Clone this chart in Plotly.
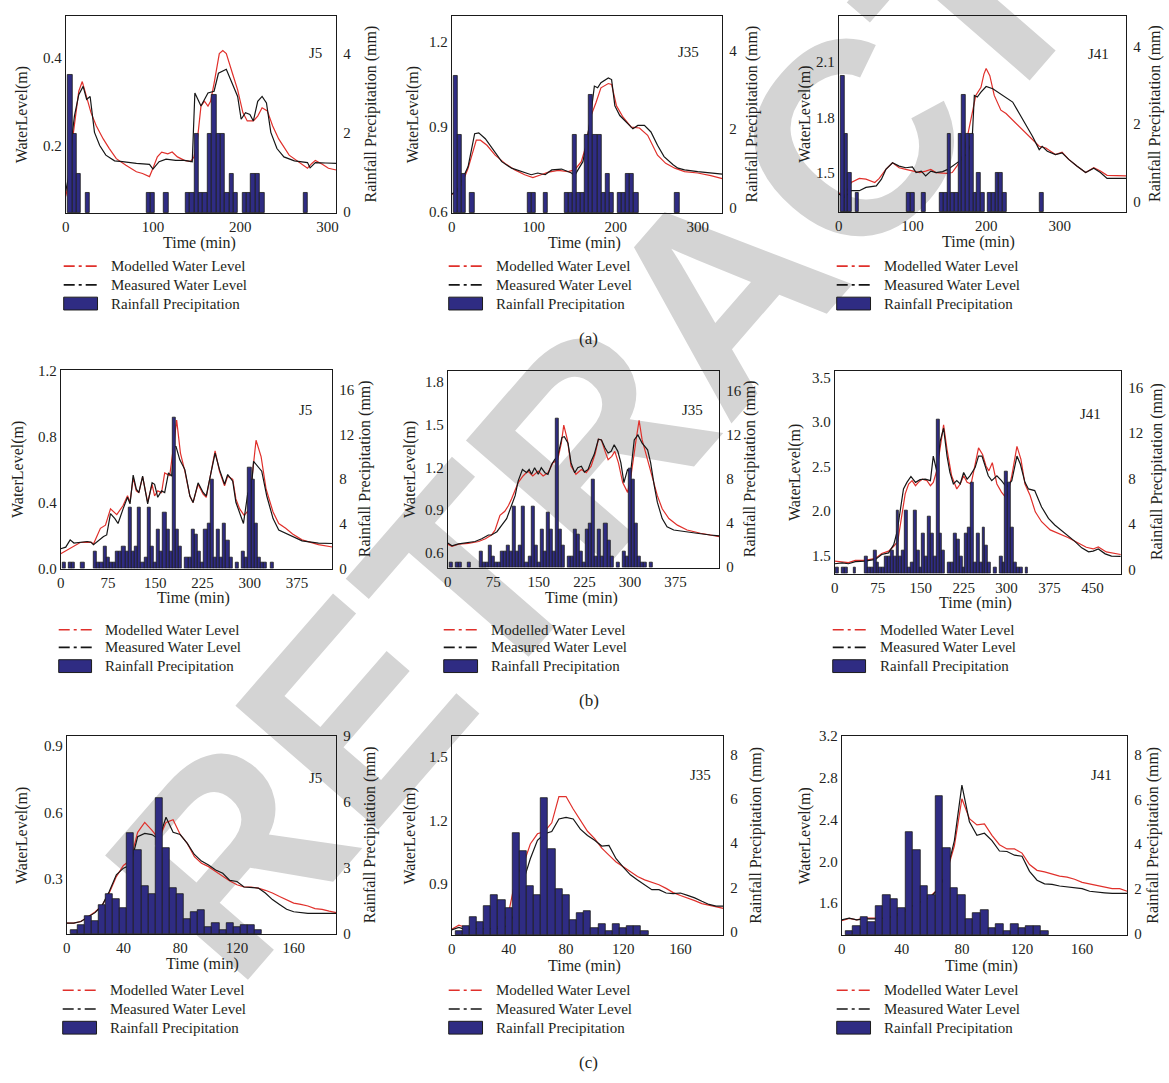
import plotly.graph_objects as go

FIG_W, FIG_H = 1169, 1083


def fx(p):
    return p / FIG_W


def fy(p):
    return 1 - p / FIG_H


SERIF = "Liberation Serif, Times New Roman, DejaVu Serif, serif"
TXT = "#231f20"
RED = "#e0302b"
BLK = "#161616"
BAR = "#2f2c83"
BAR_EDGE = "#1c1c1c"

# ---------------- Event (a) ----------------
A_RAIN_T = [5, 10, 15, 25, 95, 100, 115, 140, 145, 150, 155, 160, 165, 170, 175, 180,
            185, 190, 195, 205, 210, 215, 220, 225, 275]
A_RAIN_MM = [3.5, 2, 1, 0.5, 0.5, 0.5, 0.5, 0.5, 0.5, 2, 0.5, 0.5, 2, 3, 2, 2,
             0.5, 1, 0.5, 0.5, 0.5, 1, 1, 0.5, 0.5]

A1_MOD_T = [0, 3, 6, 10, 15, 19, 24, 29, 35, 43, 50, 58, 69, 81, 88, 96, 100, 105, 110, 117,
            122, 128, 136, 143, 147, 151, 155, 159, 163, 166, 170, 176, 180, 184, 191, 197, 203,
            208, 215, 220, 225, 231, 237, 244, 256, 267, 277, 282, 286, 294, 301, 310]
A1_MOD = [0.084, 0.11, 0.185, 0.252, 0.324, 0.346, 0.309, 0.275, 0.245, 0.215, 0.193, 0.17,
          0.155, 0.14, 0.136, 0.129, 0.148, 0.174, 0.185, 0.181, 0.185, 0.174, 0.166, 0.163,
          0.174, 0.215, 0.29, 0.301, 0.29, 0.301, 0.342, 0.41, 0.417, 0.41, 0.365, 0.327, 0.275,
          0.256, 0.256, 0.267, 0.286, 0.279, 0.245, 0.215, 0.178, 0.163, 0.148, 0.159, 0.166,
          0.157, 0.148, 0.144]
A1_MEAS_T = [0, 3, 6, 10, 15, 20, 24, 28, 33, 39, 46, 56, 65, 81, 96, 100, 107, 115, 126, 136,
             145, 148, 155, 163, 170, 175, 184, 191, 197, 201, 206, 211, 215, 220, 225, 230, 235,
             242, 250, 262, 271, 277, 280, 286, 298, 310]
A1_MEAS = [0.095, 0.125, 0.2, 0.267, 0.316, 0.335, 0.305, 0.312, 0.23, 0.2, 0.178, 0.165, 0.163,
           0.159, 0.157, 0.146, 0.163, 0.169, 0.166, 0.166, 0.163, 0.32, 0.29, 0.32, 0.324, 0.365,
           0.374, 0.342, 0.312, 0.26, 0.275, 0.271, 0.256, 0.301, 0.312, 0.297, 0.23, 0.193, 0.174,
           0.165, 0.163, 0.161, 0.149, 0.161, 0.16, 0.159]

A2_MOD_T = [0, 6, 12, 20, 30, 35, 43, 53, 65, 77, 89, 99, 109, 118, 130, 142, 150, 158, 164, 170,
            176, 182, 191, 195, 201, 209, 219, 229, 239, 251, 261, 272, 284, 300, 316, 330]
A2_MOD = [0.662, 0.67, 0.697, 0.755, 0.854, 0.854, 0.836, 0.801, 0.772, 0.749, 0.732, 0.722,
          0.732, 0.741, 0.747, 0.743, 0.749, 0.778, 0.836, 0.941, 0.987, 1.039, 1.054, 1.051,
          0.975, 0.935, 0.9, 0.897, 0.871, 0.801, 0.772, 0.755, 0.743, 0.738, 0.729, 0.718]
A2_MEAS_T = [0, 6, 12, 20, 28, 33, 41, 49, 61, 73, 85, 97, 105, 114, 122, 134, 146, 150, 154, 160,
             164, 169, 174, 178, 182, 191, 195, 199, 205, 213, 221, 227, 235, 243, 251, 259, 270,
             276, 284, 300, 316, 330]
A2_MEAS = [0.664, 0.674, 0.709, 0.761, 0.877, 0.88, 0.859, 0.825, 0.778, 0.755, 0.743, 0.732,
           0.738, 0.732, 0.749, 0.752, 0.738, 0.729, 0.749, 0.778, 0.836, 0.929, 1.045, 1.039,
           1.057, 1.074, 1.068, 0.975, 0.941, 0.917, 0.894, 0.906, 0.906, 0.883, 0.836, 0.796,
           0.767, 0.755, 0.749, 0.743, 0.738, 0.734]

A3_MOD_T = [0, 8, 17, 28, 37, 49, 55, 64, 73, 82, 91, 100, 110, 118, 125, 132, 146, 154, 161, 170,
            178, 186, 193, 197, 200, 205, 211, 220, 227, 236, 245, 254, 263, 272, 281, 294, 303,
            312, 323, 335, 346, 355, 364, 390]
A3_MOD = [1.391, 1.377, 1.448, 1.47, 1.466, 1.448, 1.47, 1.519, 1.555, 1.528, 1.519, 1.51, 1.502,
          1.51, 1.519, 1.502, 1.498, 1.502, 1.541, 1.608, 1.768, 1.919, 1.963, 2.034, 2.065, 2.026,
          1.919, 1.839, 1.821, 1.786, 1.75, 1.715, 1.679, 1.644, 1.635, 1.599, 1.612, 1.573, 1.537,
          1.502, 1.528, 1.51, 1.487, 1.484]
A3_MEAS_T = [0, 8, 17, 28, 37, 51, 58, 64, 73, 82, 91, 100, 105, 112, 118, 125, 132, 141, 148, 154,
             161, 167, 175, 181, 184, 188, 193, 200, 209, 222, 236, 245, 254, 263, 272, 276, 283,
             294, 303, 312, 323, 335, 346, 355, 364, 390]
A3_MEAS = [1.386, 1.368, 1.404, 1.404, 1.422, 1.43, 1.466, 1.519, 1.555, 1.537, 1.528, 1.532,
           1.502, 1.51, 1.484, 1.51, 1.502, 1.507, 1.519, 1.537, 1.555, 1.573, 1.608, 1.679, 1.919,
           1.91, 1.937, 1.967, 1.955, 1.919, 1.883, 1.821, 1.759, 1.697, 1.626, 1.644, 1.617, 1.599,
           1.608, 1.573, 1.537, 1.502, 1.525, 1.502, 1.47, 1.47]

# ---------------- Event (b) ----------------
B_RAIN_T = [5, 15, 20, 35, 55, 60, 65, 70, 75, 80, 85, 90, 95, 100, 105, 110, 115, 120, 125, 130,
            135, 140, 145, 150, 155, 160, 165, 170, 175, 180, 185, 190, 200, 205, 210, 215, 220,
            225, 230, 235, 240, 245, 250, 255, 260, 265, 270, 280, 290, 295, 300, 305, 310, 315,
            320, 325, 335]
B_RAIN_MM = [0.5, 0.5, 0.5, 0.5, 1.5, 0.5, 0.5, 2.0, 1.0, 0.5, 0.5, 1.5, 1.5, 2.0, 1.5, 5.5, 1.5,
             2.0, 5.5, 0.5, 1.0, 5.5, 2.0, 0.5, 3.5, 1.5, 5.0, 3.5, 1.5, 13.5, 3.5, 2.0, 1.0, 1.0,
             3.5, 3.0, 1.5, 0.5, 3.5, 4.0, 8.0, 1.0, 3.5, 1.0, 4.0, 2.5, 1.0, 0.5, 1.5, 1.0, 9.0,
             8.0, 4.0, 1.0, 0.5, 0.5, 0.5]

B1_MOD_T = [0, 16, 31, 48, 52, 63, 71, 79, 89, 99, 106, 110, 115, 120, 124, 130, 138, 145, 149, 154,
            160, 165, 173, 179, 184, 190, 197, 205, 210, 218, 226, 231, 239, 245, 252, 260, 265,
            273, 278, 284, 291, 298, 305, 310, 318, 326, 337, 346, 357, 368, 383, 409, 431]
B1_MOD = [0.09, 0.125, 0.158, 0.16, 0.149, 0.244, 0.263, 0.362, 0.327, 0.382, 0.442, 0.402, 0.55,
          0.471, 0.461, 0.556, 0.402, 0.511, 0.44, 0.471, 0.461, 0.58, 0.564, 0.739, 0.9, 0.7, 0.59,
          0.44, 0.4, 0.511, 0.451, 0.432, 0.59, 0.713, 0.59, 0.501, 0.56, 0.541, 0.422, 0.362,
          0.323, 0.352, 0.6, 0.778, 0.679, 0.481, 0.343, 0.273, 0.244, 0.21, 0.174, 0.145, 0.131]
B1_MEAS_T = [0, 8, 15, 21, 42, 48, 52, 58, 68, 73, 79, 86, 91, 99, 106, 110, 115, 120, 124, 130,
             138, 145, 149, 154, 160, 165, 171, 176, 180, 183, 189, 197, 205, 210, 218, 226, 231,
             239, 245, 252, 260, 265, 273, 278, 283, 290, 297, 301, 306, 312, 319, 327, 337, 346,
             363, 383, 409, 431]
B1_MEAS = [0.12, 0.13, 0.174, 0.155, 0.164, 0.16, 0.145, 0.164, 0.194, 0.204, 0.333, 0.303, 0.273,
           0.362, 0.432, 0.392, 0.566, 0.481, 0.461, 0.56, 0.392, 0.521, 0.511, 0.432, 0.471, 0.461,
           0.58, 0.56, 0.739, 0.739, 0.659, 0.6, 0.44, 0.4, 0.52, 0.461, 0.44, 0.59, 0.7, 0.6,
           0.511, 0.57, 0.53, 0.402, 0.343, 0.273, 0.461, 0.402, 0.65, 0.62, 0.59, 0.44, 0.303,
           0.234, 0.204, 0.168, 0.154, 0.152]

B2_MOD_T = [0, 7, 18, 34, 51, 62, 72, 78, 86, 94, 100, 105, 116, 124, 132, 140, 149, 157, 165, 173,
            181, 187, 191, 197, 203, 211, 220, 228, 236, 243, 248, 253, 259, 264, 270, 275, 281,
            288, 296, 302, 310, 315, 320, 329, 337, 345, 353, 364, 378, 394, 416, 447]
B2_MOD = [0.662, 0.646, 0.662, 0.667, 0.68, 0.699, 0.726, 0.761, 0.864, 0.892, 0.933, 0.979, 1.094,
          1.14, 1.175, 1.14, 1.175, 1.14, 1.163, 1.232, 1.255, 1.37, 1.497, 1.393, 1.209, 1.152,
          1.186, 1.163, 1.209, 1.301, 1.398, 1.393, 1.313, 1.255, 1.278, 1.313, 1.232, 1.094,
          1.025, 1.152, 1.393, 1.531, 1.393, 1.255, 1.14, 1.002, 0.91, 0.841, 0.795, 0.761, 0.738,
          0.715]
B2_MEAS_T = [0, 7, 18, 34, 45, 56, 67, 72, 81, 89, 97, 105, 111, 116, 123, 130, 134, 138, 143, 149,
             154, 160, 165, 171, 176, 181, 188, 192, 198, 203, 209, 214, 220, 225, 231, 236, 241,
             248, 253, 259, 264, 269, 274, 280, 285, 290, 296, 301, 307, 313, 320, 329, 334, 340,
             345, 353, 361, 372, 389, 410, 432, 447]
B2_MEAS = [0.669, 0.65, 0.664, 0.674, 0.68, 0.699, 0.726, 0.726, 0.749, 0.795, 0.841, 0.933, 1.002,
           1.106, 1.186, 1.163, 1.186, 1.152, 1.198, 1.152, 1.198, 1.163, 1.152, 1.221, 1.255,
           1.278, 1.411, 1.416, 1.37, 1.232, 1.163, 1.198, 1.209, 1.168, 1.186, 1.244, 1.29, 1.398,
           1.393, 1.336, 1.301, 1.313, 1.359, 1.313, 1.232, 1.094, 1.186, 1.163, 1.393, 1.428,
           1.37, 1.324, 1.232, 1.071, 0.956, 0.841, 0.784, 0.761, 0.749, 0.738, 0.726, 0.72]

B3_MOD_T = [0, 13, 24, 36, 53, 71, 82, 94, 103, 110, 117, 123, 129, 135, 141, 146, 153, 161, 167,
            172, 178, 183, 190, 196, 204, 213, 219, 225, 231, 238, 245, 251, 258, 264, 269, 275,
            283, 291, 300, 309, 318, 325, 332, 341, 350, 361, 376, 390, 407, 425, 439, 451, 460,
            474, 499]
B3_MOD = [1.44, 1.433, 1.422, 1.448, 1.448, 1.47, 1.525, 1.551, 1.606, 1.661, 1.956, 2.195, 2.306,
          2.343, 2.287, 2.324, 2.361, 2.343, 2.287, 2.324, 2.453, 2.656, 2.969, 2.692, 2.398, 2.25,
          2.306, 2.398, 2.324, 2.306, 2.508, 2.711, 2.637, 2.508, 2.453, 2.545, 2.306, 2.214, 2.14,
          2.398, 2.729, 2.582, 2.306, 2.177, 1.993, 1.882, 1.79, 1.753, 1.705, 1.643, 1.595, 1.576,
          1.599, 1.543, 1.514]
B3_MEAS_T = [0, 13, 24, 36, 53, 71, 82, 94, 103, 109, 114, 120, 126, 133, 141, 149, 158, 167, 172,
             178, 184, 190, 196, 201, 207, 213, 219, 225, 231, 236, 245, 251, 257, 262, 268, 274,
             283, 291, 300, 309, 318, 324, 332, 338, 349, 361, 373, 384, 402, 419, 431, 443, 451,
             460, 472, 483, 499]
B3_MEAS = [1.41, 1.42, 1.41, 1.433, 1.44, 1.459, 1.514, 1.532, 1.624, 1.772, 1.993, 2.25, 2.324,
           2.39, 2.324, 2.354, 2.361, 2.343, 2.619, 2.453, 2.785, 2.932, 2.619, 2.435, 2.306, 2.343,
           2.306, 2.435, 2.361, 2.398, 2.49, 2.619, 2.619, 2.508, 2.398, 2.343, 2.398, 2.343, 2.269,
           2.343, 2.619, 2.527, 2.324, 2.25, 2.232, 2.048, 1.919, 1.845, 1.753, 1.661, 1.588,
           1.543, 1.551, 1.576, 1.521, 1.495, 1.492]

# ---------------- Event (c) ----------------
C_RAIN_T = [5, 10, 15, 20, 25, 30, 35, 40, 45, 50, 55, 60, 65, 70, 75, 80, 85, 90, 95, 100, 105,
            110, 115, 120, 125, 130, 135]
C_RAIN_MM = [0.2, 0.4, 0.8, 0.6, 1.3, 1.8, 1.6, 1.2, 4.6, 3.8, 2.2, 1.8, 6.2, 3.9, 2.1, 1.8, 0.7,
             1.0, 1.1, 0.3, 0.5, 0.2, 0.5, 0.3, 0.4, 0.4, 0.2]

C_T = [0, 5, 10, 15, 20, 25, 30, 35, 40, 45, 50, 55, 60, 65, 70, 75, 80, 85, 90, 95, 100, 105, 110,
       115, 120, 125, 130, 135, 140, 145, 150, 155, 160, 165, 170, 175, 180, 185, 190]
C1_MOD = [0.1, 0.1, 0.107, 0.128, 0.15, 0.18, 0.236, 0.31, 0.36, 0.385, 0.51, 0.555, 0.52, 0.48,
          0.555, 0.567, 0.5, 0.46, 0.4, 0.37, 0.355, 0.333, 0.31, 0.29, 0.273, 0.263, 0.263, 0.258,
          0.248, 0.236, 0.22, 0.206, 0.19, 0.184, 0.177, 0.165, 0.162, 0.154, 0.147]
C1_MEAS = [0.1, 0.1, 0.107, 0.128, 0.147, 0.18, 0.243, 0.318, 0.348, 0.362, 0.49, 0.505, 0.5, 0.48,
           0.578, 0.51, 0.5, 0.46, 0.41, 0.38, 0.362, 0.34, 0.325, 0.293, 0.288, 0.263, 0.261,
           0.258, 0.236, 0.206, 0.184, 0.162, 0.151, 0.147, 0.144, 0.144, 0.144, 0.144, 0.144]
C2_MOD = [0.687, 0.706, 0.695, 0.69, 0.69, 0.69, 0.69, 0.71, 0.77, 0.936, 0.99, 1.09, 1.138, 1.149,
          1.19, 1.314, 1.314, 1.255, 1.2, 1.15, 1.115, 1.07, 1.037, 1.005, 0.982, 0.96, 0.936, 0.92,
          0.908, 0.897, 0.88, 0.86, 0.846, 0.835, 0.822, 0.808, 0.8, 0.793, 0.785]
C2_MEAS = [0.684, 0.695, 0.684, 0.69, 0.69, 0.69, 0.69, 0.69, 0.71, 0.772, 0.912, 1.02, 1.107,
           1.138, 1.149, 1.208, 1.216, 1.208, 1.16, 1.13, 1.107, 1.08, 1.083, 1.02, 0.98, 0.944,
           0.92, 0.897, 0.874, 0.874, 0.858, 0.855, 0.858, 0.847, 0.835, 0.819, 0.804, 0.796, 0.796]
C3_MOD = [1.432, 1.454, 1.44, 1.457, 1.457, 1.457, 1.46, 1.47, 1.5, 1.55, 1.6, 1.62, 1.68, 1.75,
          1.9, 2.15, 2.6, 2.41, 2.35, 2.36, 2.25, 2.16, 2.12, 2.12, 2.08, 1.97, 1.915, 1.9, 1.88,
          1.86, 1.85, 1.83, 1.8, 1.785, 1.77, 1.75, 1.74, 1.74, 1.715]
C3_MEAS = [1.44, 1.457, 1.44, 1.45, 1.45, 1.45, 1.46, 1.48, 1.52, 1.56, 1.6, 1.63, 1.67, 1.75, 1.9,
           2.2, 2.73, 2.38, 2.25, 2.27, 2.2, 2.1, 2.095, 2.06, 2.05, 1.905, 1.82, 1.785, 1.78,
           1.765, 1.757, 1.75, 1.74, 1.715, 1.705, 1.7, 1.694, 1.694, 1.694]

NODE_NAMES = ["J5", "J35", "J41"]
LEGEND_TEXT = ["Modelled Water Level", "Measured Water Level", "Rainfall Precipitation"]
X_TITLE = "Time (min)"
Y_TITLE = "WaterLevel(m)"
Y2_TITLE = "Rainfall Precipitation (mm)"
CAPTIONS = ["(a)", "(b)", "(c)"]
WATERMARK = "RETRACTED"

# Panel layout (pixel boxes) and axis settings
panels = [
    dict(node=0, box=(62, 334, 8, 208), rain=(A_RAIN_T, A_RAIN_MM),
         mod=(A1_MOD_T, A1_MOD), meas=(A1_MEAS_T, A1_MEAS),
         xr=[0, 310], xt=[0, 100, 200, 300], yr=[0.046, 0.496], yt=[0.2, 0.4],
         y2r=[-0.04, 4.96], y2t=[0, 2, 4],
         tag=(313, 46), xtl=(197, 239), ytl=19, y2tl=369,
         leg=(60, 95, 106, [262, 281, 300])),
    dict(node=1, box=(450, 722, 8, 208), rain=(A_RAIN_T, A_RAIN_MM),
         mod=(A2_MOD_T, A2_MOD), meas=(A2_MEAS_T, A2_MEAS),
         xr=[0, 330], xt=[0, 100, 200, 300], yr=[0.597, 1.293], yt=[0.6, 0.9, 1.2],
         y2r=[-0.14, 4.88], y2t=[0, 2, 4],
         tag=(688, 45), xtl=(583, 239), ytl=412, y2tl=752,
         leg=(447, 482, 493, [262, 281, 300])),
    dict(node=2, box=(839, 1128, 8, 207), rain=(A_RAIN_T, A_RAIN_MM),
         mod=(A3_MOD_T, A3_MOD), meas=(A3_MEAS_T, A3_MEAS),
         xr=[0, 390], xt=[0, 100, 200, 300], yr=[1.289, 2.349], yt=[1.5, 1.8, 2.1],
         y2r=[-0.25, 4.78], y2t=[0, 2, 4],
         tag=(1100, 47), xtl=(980, 238), ytl=805, y2tl=1157,
         leg=(837, 872, 883, [262, 281, 300])),
    dict(node=0, box=(57, 330, 367, 569), rain=(B_RAIN_T, B_RAIN_MM),
         mod=(B1_MOD_T, B1_MOD), meas=(B1_MEAS_T, B1_MEAS),
         xr=[0, 431], xt=[0, 75, 150, 225, 300, 375], yr=[0, 1.206], yt=[0, 0.4, 0.8, 1.2],
         y2r=[0, 17.8], y2t=[0, 4, 8, 12, 16],
         tag=(303, 408), xtl=(190, 599), ytl=14, y2tl=363,
         leg=(55, 89, 100, [631, 649, 668])),
    dict(node=1, box=(446, 719, 368, 568), rain=(B_RAIN_T, B_RAIN_MM),
         mod=(B2_MOD_T, B2_MOD), meas=(B2_MEAS_T, B2_MEAS),
         xr=[0, 447], xt=[0, 75, 150, 225, 300, 375], yr=[0.497, 1.88],
         yt=[0.6, 0.9, 1.2, 1.5, 1.8],
         y2r=[-0.09, 17.8], y2t=[0, 4, 8, 12, 16],
         tag=(692, 408), xtl=(580, 599), ytl=408, y2tl=750,
         leg=(442, 477, 488, [631, 649, 668])),
    dict(node=2, box=(835, 1123, 368, 574), rain=(B_RAIN_T, B_RAIN_MM),
         mod=(B3_MOD_T, B3_MOD), meas=(B3_MEAS_T, B3_MEAS),
         xr=[0, 500], xt=[0, 75, 150, 225, 300, 375, 450], yr=[1.3, 3.58],
         yt=[1.5, 2.0, 2.5, 3.0, 3.5],
         y2r=[-0.35, 17.5], y2t=[0, 4, 8, 12, 16],
         tag=(1092, 412), xtl=(977, 604), ytl=795, y2tl=1159,
         leg=(833, 867, 879, [631, 649, 668])),
    dict(node=0, box=(63, 334, 739, 940), rain=(C_RAIN_T, C_RAIN_MM),
         mod=(C_T, C1_MOD), meas=(C_T, C1_MEAS),
         xr=[0, 190], xt=[0, 40, 80, 120, 160], yr=[0.05, 0.945], yt=[0.3, 0.6, 0.9],
         y2r=[0, 9.0], y2t=[0, 3, 6, 9],
         tag=(313, 782), xtl=(200, 970), ytl=18, y2tl=368,
         leg=(59, 94, 105, [997, 1016, 1035])),
    dict(node=1, box=(450, 723, 739, 941), rain=(C_RAIN_T, C_RAIN_MM),
         mod=(C_T, C2_MOD), meas=(C_T, C2_MEAS),
         xr=[0, 190], xt=[0, 40, 80, 120, 160], yr=[0.659, 1.6], yt=[0.9, 1.2, 1.5],
         y2r=[-0.16, 8.83], y2t=[0, 2, 4, 6, 8],
         tag=(700, 779), xtl=(583, 972), ytl=408, y2tl=755,
         leg=(447, 482, 493, [997, 1016, 1035])),
    dict(node=2, box=(842, 1129, 739, 941), rain=(C_RAIN_T, C_RAIN_MM),
         mod=(C_T, C3_MOD), meas=(C_T, C3_MEAS),
         xr=[0, 190], xt=[0, 40, 80, 120, 160], yr=[1.295, 3.2],
         yt=[1.6, 2.0, 2.4, 2.8, 3.2],
         y2r=[-0.06, 8.83], y2t=[0, 2, 4, 6, 8],
         tag=(1103, 778), xtl=(983, 972), ytl=805, y2tl=1155,
         leg=(837, 872, 883, [997, 1016, 1035])),
]

CAPTION_POS = [(588, 335), (588, 703), (588, 1070)]


def ax_key(letter, n):
    return f"{letter}axis" if n == 1 else f"{letter}axis{n}"


def ax_ref(letter, n):
    return letter if n == 1 else f"{letter}{n}"


def note(text, x, y, font, xanchor="center", angle=0):
    return dict(text=text, x=fx(x), y=fy(y), xref="paper", yref="paper",
                xanchor=xanchor, yanchor="middle", textangle=angle,
                showarrow=False, font=font)


fig = go.Figure()
layout = {}
annotations = []
shapes = []

tick_font = dict(family=SERIF, size=15, color=TXT)
title_font = dict(family=SERIF, size=16, color=TXT)
legend_font = dict(family=SERIF, size=15, color=TXT)

# large diagonal lettering behind all panels
shapes.append(dict(
    type="rect", xref="paper", yref="paper", layer="below",
    x0=fx(699), x1=fx(701), y0=fy(271), y1=fy(269),
    line=dict(width=0), fillcolor="rgba(0,0,0,0)",
    label=dict(text=WATERMARK, textangle=-49, textposition="middle center",
               font=dict(family="Liberation Sans, Arial, sans-serif", size=275,
                         color="#d4d4d4", weight="bold")),
))

for k, p in enumerate(panels):
    xn = k + 1
    yl = 2 * k + 1
    yr2 = 2 * k + 2
    l, r, t, b = p["box"]

    fig.add_trace(go.Scatter(
        x=p["mod"][0], y=p["mod"][1], mode="lines", name=LEGEND_TEXT[0],
        line=dict(color=RED, width=1.2), showlegend=False,
        xaxis=ax_ref("x", xn), yaxis=ax_ref("y", yl)))
    fig.add_trace(go.Scatter(
        x=p["meas"][0], y=p["meas"][1], mode="lines", name=LEGEND_TEXT[1],
        line=dict(color=BLK, width=1.2), showlegend=False,
        xaxis=ax_ref("x", xn), yaxis=ax_ref("y", yl)))
    fig.add_trace(go.Bar(
        x=p["rain"][0], y=p["rain"][1], base=p["y2r"][0], width=5,
        name=LEGEND_TEXT[2], showlegend=False,
        marker=dict(color=BAR, line=dict(color=BAR_EDGE, width=0.8)),
        xaxis=ax_ref("x", xn), yaxis=ax_ref("y", yr2)))

    layout[ax_key("x", xn)] = dict(
        domain=[fx(l), fx(r)], anchor=ax_ref("y", yl), range=p["xr"], tickvals=p["xt"],
        showline=True, linecolor="#1a1a1a", linewidth=1, mirror=True, ticks="",
        showgrid=False, zeroline=False, tickfont=tick_font)
    layout[ax_key("y", yl)] = dict(
        domain=[fy(b), fy(t)], anchor=ax_ref("x", xn), range=p["yr"], tickvals=p["yt"],
        tickformat=".1f", showline=True, linecolor="#1a1a1a", linewidth=1, mirror=True,
        ticks="", showgrid=False, zeroline=False, tickfont=tick_font)
    layout[ax_key("y", yr2)] = dict(
        overlaying=ax_ref("y", yl), anchor=ax_ref("x", xn), side="right", range=p["y2r"],
        tickvals=p["y2t"], tickformat="d", showline=False, ticks="", showgrid=False,
        zeroline=False, tickfont=tick_font, ticklabelstandoff=6)

    annotations.append(note(NODE_NAMES[p["node"]], p["tag"][0], p["tag"][1],
                            dict(family=SERIF, size=15, color=TXT)))
    annotations.append(note(X_TITLE, p["xtl"][0], p["xtl"][1], title_font))
    mid = (t + b) / 2
    annotations.append(note(Y_TITLE, p["ytl"], mid, title_font, angle=-90))
    annotations.append(note(Y2_TITLE, p["y2tl"], mid, title_font, angle=-90))

    s0, s1, tx, rows = p["leg"]
    for col, row in zip([RED, BLK], rows[:2]):
        shapes.append(dict(type="line", xref="paper", yref="paper",
                           x0=fx(s0), x1=fx(s1), y0=fy(row), y1=fy(row),
                           line=dict(color=col, width=1.6, dash="11px,4px,3px,4px,11px")))
    shapes.append(dict(type="rect", xref="paper", yref="paper",
                       x0=fx(s0), x1=fx(s1 - 1), y0=fy(rows[2] + 6.5), y1=fy(rows[2] - 6.5),
                       fillcolor=BAR, line=dict(color=BAR_EDGE, width=1)))
    for txt, row in zip(LEGEND_TEXT, rows):
        annotations.append(note(txt, tx, row, legend_font, xanchor="left"))

for cap, (cx, cy) in zip(CAPTIONS, CAPTION_POS):
    annotations.append(note(cap, cx, cy, dict(family=SERIF, size=17, color=TXT)))

fig.update_layout(
    width=FIG_W, height=FIG_H, margin=dict(l=0, r=0, t=0, b=0),
    paper_bgcolor="white", plot_bgcolor="rgba(0,0,0,0)",
    showlegend=False, bargap=0,
    annotations=annotations, shapes=shapes,
    **layout,
)

fig.write_html("out.html")
